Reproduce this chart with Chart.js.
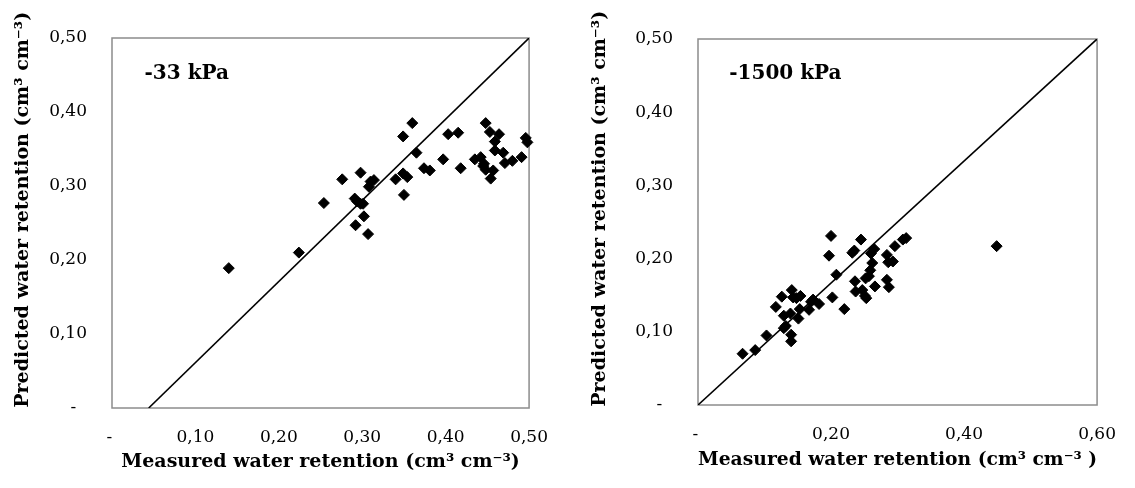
<!DOCTYPE html>
<html>
<head>
<meta charset="utf-8">
<script src="https://cdn.jsdelivr.net/npm/chart.js@4.4.1/dist/chart.umd.min.js"></script>
<style>
  html, body { margin: 0; padding: 0; background: #fff; }
  #wrap { position: relative; width: 1135px; height: 488px; }
  canvas { position: absolute; top: 0; }
</style>
</head>
<body>
<div id="wrap">
  <canvas id="chart33" width="567" height="488" style="left:0"></canvas>
  <canvas id="chart1500" width="568" height="488" style="left:567px"></canvas>
</div>
<script>
// -33 kPa: medido x previsto
const measured33 = [0.140, 0.224, 0.254, 0.276, 0.298, 0.291, 0.294, 0.298, 0.301, 0.292,
  0.302, 0.307, 0.308, 0.310, 0.314, 0.340, 0.349, 0.360, 0.349, 0.354,
  0.350, 0.365, 0.374, 0.381, 0.397, 0.403, 0.415, 0.418, 0.435, 0.442,
  0.445, 0.448, 0.448, 0.453, 0.457, 0.454, 0.464, 0.459, 0.459, 0.469,
  0.471, 0.480, 0.491, 0.496, 0.498, 0.446];
const predicted33 = [0.189, 0.210, 0.277, 0.309, 0.318, 0.283, 0.279, 0.276, 0.276, 0.247,
  0.259, 0.235, 0.299, 0.306, 0.308, 0.309, 0.367, 0.385, 0.317, 0.312,
  0.288, 0.345, 0.324, 0.321, 0.336, 0.370, 0.372, 0.324, 0.336, 0.339,
  0.327, 0.322, 0.385, 0.373, 0.321, 0.310, 0.370, 0.360, 0.348, 0.345,
  0.331, 0.334, 0.339, 0.365, 0.359, 0.330];
const line33X = [0.044, 0.5];
const line33Y = [0, 0.5];

// -1500 kPa
const measured1500 = [0.067, 0.086, 0.103, 0.117, 0.126, 0.129, 0.129, 0.132, 0.141, 0.143,
  0.139, 0.140, 0.140, 0.148, 0.154, 0.151, 0.153, 0.167, 0.170, 0.173,
  0.182, 0.200, 0.197, 0.202, 0.208, 0.220, 0.232, 0.235, 0.245, 0.236,
  0.237, 0.247, 0.251, 0.253, 0.252, 0.257, 0.259, 0.262, 0.260, 0.265,
  0.266, 0.284, 0.286, 0.293, 0.284, 0.287, 0.296, 0.308, 0.313, 0.449];
const predicted1500 = [0.070, 0.075, 0.095, 0.134, 0.148, 0.122, 0.105, 0.108, 0.157, 0.147,
  0.125, 0.096, 0.087, 0.146, 0.149, 0.118, 0.131, 0.130, 0.141, 0.144,
  0.138, 0.231, 0.204, 0.147, 0.178, 0.131, 0.208, 0.211, 0.226, 0.169,
  0.155, 0.157, 0.149, 0.146, 0.173, 0.176, 0.184, 0.194, 0.207, 0.213,
  0.162, 0.205, 0.195, 0.196, 0.171, 0.161, 0.217, 0.226, 0.228, 0.217];
const line1500X = [0, 0.6];
const line1500Y = [0, 0.5];

// eixos e textos
const xTicks33 = { min: 0, max: 0.5, step: 0.1 };
const xTicks1500 = { min: 0, max: 0.6, step: 0.2 };
const yTicks = { min: 0, max: 0.5, step: 0.1 };
const xTitle33 = "Measured water retention (cm³ cm⁻³)";
const xTitle1500 = "Measured water retention (cm³ cm⁻³ )";
// espaços iniciais sobem um pouco o título (como no original)
const yTitle = "    Predicted water retention (cm³ cm⁻³)";
const label33 = { text: "-33 kPa", x: 0.039, y: 0.445 };
const label1500 = { text: "-1500 kPa", x: 0.047, y: 0.446 };

Chart.defaults.font.family = "'DejaVu Serif', serif";
Chart.defaults.color = "#000";

const toPoints = (xs, ys) => xs.map((x, i) => ({ x, y: ys[i] }));
const fmt = (v, zero) => v === 0 ? zero : v.toFixed(2).replace(".", ",");

// moldura cinza em volta da área do gráfico
const boxPlugin = {
  id: "box",
  beforeDatasetsDraw(chart) {
    const { ctx, chartArea: a } = chart;
    ctx.save();
    ctx.strokeStyle = "#8c8c8c";
    ctx.lineWidth = 1.5;
    ctx.strokeRect(a.left, a.top, a.right - a.left, a.bottom - a.top);
    ctx.restore();
  }
};

// rótulo -33 kPa / -1500 kPa
const labelPlugin = {
  id: "pressLabel",
  afterDraw(chart, args, opts) {
    const { ctx, scales } = chart;
    ctx.save();
    ctx.font = "bold 20px 'DejaVu Serif'";
    ctx.fillStyle = "#000";
    ctx.textBaseline = "alphabetic";
    ctx.fillText(opts.text, scales.x.getPixelForValue(opts.x), scales.y.getPixelForValue(opts.y));
    ctx.restore();
  }
};

function makeChart(id, cfg) {
  const ctx = document.getElementById(id).getContext("2d");
  return new Chart(ctx, {
    type: "scatter",
    data: {
      datasets: [{
        data: toPoints(cfg.mx, cfg.py),
        pointStyle: "rectRot",
        pointRadius: 5.5,
        backgroundColor: "#000",
        borderColor: "#000",
        borderWidth: 1,
        clip: false
      }, {
        type: "line",
        data: toPoints(cfg.lx, cfg.ly),
        borderColor: "#000",
        borderWidth: 1.6,
        pointRadius: 0,
        fill: false
      }]
    },
    options: {
      responsive: false,
      animation: false,
      layout: { padding: { left: 0, top: cfg.top, right: cfg.right, bottom: 0 } },
      scales: {
        x: {
          type: "linear",
          min: cfg.xt.min,
          max: cfg.xt.max,
          afterFit: s => { s.height = cfg.xh; },
          grid: { display: false, drawTicks: false },
          border: { display: false },
          ticks: {
            stepSize: cfg.xt.step,
            padding: 19,
            maxRotation: 0,
            autoSkip: false,
            font: { size: 17 },
            callback: v => fmt(v, "- ")
          },
          title: {
            display: true,
            text: cfg.xTitle,
            font: { size: 19, weight: "bold" },
            padding: { top: 0, bottom: cfg.xtPad }
          }
        },
        y: {
          min: yTicks.min,
          max: yTicks.max,
          afterFit: s => { s.width = cfg.yw; },
          grid: { display: false, drawTicks: false },
          border: { display: false },
          ticks: {
            stepSize: yTicks.step,
            padding: 25,
            font: { size: 17 },
            callback: v => fmt(v, "-  ")
          },
          title: {
            display: true,
            text: yTitle,
            font: { size: 19, weight: "bold" },
            padding: { top: cfg.ytPad, bottom: 0 }
          }
        }
      },
      plugins: {
        legend: { display: false },
        tooltip: { enabled: false },
        pressLabel: cfg.label
      }
    },
    plugins: [boxPlugin, labelPlugin]
  });
}

makeChart("chart33", {
  mx: measured33, py: predicted33, lx: line33X, ly: line33Y,
  xt: xTicks33, xTitle: xTitle33, label: label33,
  top: 38, right: 34, xh: 80, yw: 112, xtPad: 15, ytPad: 12
});

makeChart("chart1500", {
  mx: measured1500, py: predicted1500, lx: line1500X, ly: line1500Y,
  xt: xTicks1500, xTitle: xTitle1500, label: label1500,
  top: 39, right: 25, xh: 83, yw: 131, xtPad: 17, ytPad: 22
});
</script>
</body>
</html>
